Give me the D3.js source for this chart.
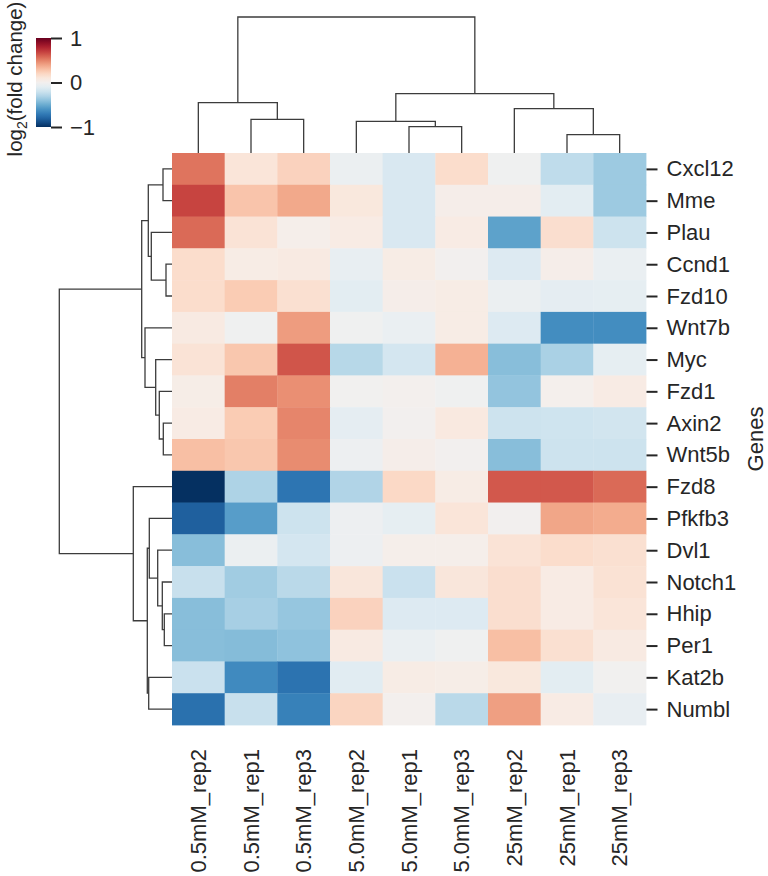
<!DOCTYPE html>
<html>
<head>
<meta charset="utf-8">
<script src="https://cdn.jsdelivr.net/npm/d3@7"></script>
<style>
  html, body { margin: 0; padding: 0; background: #fff; }
  svg { display: block; }
  text { font-family: "Liberation Sans", Arial, Helvetica, sans-serif; fill: #262626; }
</style>
</head>
<body>
<svg id="chart" width="768" height="876"></svg>
<script>
// ---------------- data ----------------
const samples = ["0.5mM_rep2", "0.5mM_rep1", "0.5mM_rep3", "5.0mM_rep2", "5.0mM_rep1",
                 "5.0mM_rep3", "25mM_rep2", "25mM_rep1", "25mM_rep3"];
const genes = ["Cxcl12", "Mme", "Plau", "Ccnd1", "Fzd10", "Wnt7b", "Myc", "Fzd1", "Axin2",
               "Wnt5b", "Fzd8", "Pfkfb3", "Dvl1", "Notch1", "Hhip", "Per1", "Kat2b", "Numbl"];
// log2(fold change), rows = genes, columns = samples (both in clustered display order)
const values = [
  [ 0.54,  0.12,  0.22, -0.05, -0.15,  0.17, -0.02, -0.25, -0.36],
  [ 0.68,  0.28,  0.38,  0.10, -0.15,  0.04,  0.04, -0.10, -0.36],
  [ 0.57,  0.13,  0.03,  0.07, -0.15,  0.07, -0.54,  0.16, -0.20],
  [ 0.17,  0.06,  0.08, -0.07,  0.06,  0.00, -0.13,  0.04, -0.06],
  [ 0.17,  0.25,  0.15, -0.10,  0.04,  0.06, -0.05, -0.09, -0.08],
  [ 0.08, -0.02,  0.42, -0.02, -0.06,  0.06, -0.13, -0.63, -0.63],
  [ 0.13,  0.27,  0.63, -0.28, -0.17,  0.35, -0.42, -0.32, -0.08],
  [ 0.05,  0.51,  0.46, -0.01,  0.01, -0.02, -0.39,  0.02,  0.07],
  [ 0.07,  0.25,  0.49, -0.09,  0.00,  0.09, -0.20, -0.19, -0.18],
  [ 0.30,  0.27,  0.47, -0.04,  0.04,  0.00, -0.42, -0.20, -0.20],
  [-1.00, -0.31, -0.73, -0.30,  0.19,  0.06,  0.62,  0.62,  0.57],
  [-0.82, -0.56, -0.20, -0.04, -0.08,  0.12,  0.00,  0.39,  0.37],
  [-0.42, -0.05, -0.17, -0.04,  0.03,  0.03,  0.13,  0.17,  0.15],
  [-0.22, -0.35, -0.27,  0.11, -0.21,  0.11,  0.16,  0.07,  0.14],
  [-0.42, -0.33, -0.38,  0.22, -0.13, -0.13,  0.16,  0.07,  0.12],
  [-0.42, -0.43, -0.40,  0.08, -0.06, -0.02,  0.30,  0.15,  0.08],
  [-0.21, -0.64, -0.74, -0.11,  0.06,  0.05,  0.10, -0.10, -0.01],
  [-0.75, -0.22, -0.68,  0.21,  0.01, -0.27,  0.41,  0.07, -0.07]
];
// scipy-style linkage: [childA, childB, distance]; ids >= n refer to earlier merges
const colLinkage = [
  [7, 8, 18.3], [4, 5, 26.3], [3, 10, 31.7], [1, 2, 33.7],
  [6, 9, 44.3], [0, 12, 50.3], [11, 13, 59.3], [14, 15, 136.0]
];
const rowLinkage = [
  [3, 4, 6.0], [14, 15, 7.7], [8, 9, 8.7], [0, 1, 9.0], [13, 19, 9.7],
  [7, 20, 12.7], [12, 22, 14.3], [6, 23, 16.3], [2, 18, 20.7], [11, 24, 22.7],
  [16, 17, 23.3], [21, 26, 23.7], [27, 28, 24.7], [5, 25, 27.0], [29, 31, 30.3],
  [10, 30, 38.7], [32, 33, 112.7]
];
const cbarTicks = [-1, 0, 1];
const cbarLabel = "log₂(fold change)";
const rowAxisTitle = "Genes";

// ---------------- layout ----------------
const svg = d3.select("#chart");
const hm = { x0: 172, x1: 646, y0: 153, y1: 725 };
const fontSize = 22;

const x = d3.scaleBand().domain(d3.range(samples.length)).range([hm.x0, hm.x1]);
const y = d3.scaleBand().domain(d3.range(genes.length)).range([hm.y0, hm.y1]);
const color = v => d3.interpolateRdBu((1 - Math.max(-1, Math.min(1, v))) / 2);

// heatmap cells
const cells = [];
values.forEach((row, r) => row.forEach((v, c) => cells.push({ r, c, v })));
svg.append("g").selectAll("rect").data(cells).join("rect")
  .attr("x", d => x(d.c)).attr("y", d => y(d.r))
  .attr("width", x.bandwidth() + 0.4).attr("height", y.bandwidth() + 0.4)
  .attr("fill", d => color(d.v));

// dendrogram helper
function dendroSegments(linkage, n, posOf) {
  const pos = d3.range(n).map(posOf);
  const hgt = d3.range(n).map(() => 0);
  const segs = [];
  linkage.forEach(([a, b, d]) => {
    segs.push({ p1: pos[a], h1: hgt[a], p2: pos[b], h2: hgt[b], h: d });
    pos.push((pos[a] + pos[b]) / 2);
    hgt.push(d);
  });
  return segs;
}
const lineStyle = sel => sel.attr("fill", "none").attr("stroke", "#3c3c3c").attr("stroke-width", 1.3);

// column dendrogram
const colH = d3.scaleLinear().domain([0, d3.max(colLinkage, d => d[2])]).range([hm.y0, 17]);
const colSegs = dendroSegments(colLinkage, samples.length, i => x(i) + x.bandwidth() / 2);
svg.append("g").selectAll("path").data(colSegs).join("path")
  .attr("d", s => `M${s.p1},${colH(s.h1)}V${colH(s.h)}H${s.p2}V${colH(s.h2)}`)
  .call(lineStyle);

// row dendrogram
const rowH = d3.scaleLinear().domain([0, d3.max(rowLinkage, d => d[2])]).range([hm.x0, 59.3]);
const rowSegs = dendroSegments(rowLinkage, genes.length, i => y(i) + y.bandwidth() / 2);
svg.append("g").selectAll("path").data(rowSegs).join("path")
  .attr("d", s => `M${rowH(s.h1)},${s.p1}H${rowH(s.h)}V${s.p2}H${rowH(s.h2)}`)
  .call(lineStyle);

// row labels (right axis)
const rowAxis = svg.append("g").attr("transform", `translate(${hm.x1 + 0.5},0)`)
  .call(d3.axisRight(d3.scalePoint().domain(genes).range([y(0) + y.bandwidth() / 2, y(genes.length - 1) + y.bandwidth() / 2]))
    .tickSizeInner(11).tickSizeOuter(0).tickPadding(9));
rowAxis.select(".domain").remove();
rowAxis.selectAll("line").attr("stroke", "#262626").attr("stroke-width", 2);
rowAxis.selectAll("text").attr("font-size", fontSize).attr("fill", "#262626")
  .style("font-family", '"Liberation Sans", Arial, sans-serif');

// column labels (bottom, rotated)
svg.append("g").selectAll("text").data(samples).join("text")
  .attr("transform", (d, i) => `translate(${x(i) + x.bandwidth() / 2},749) rotate(-90)`)
  .attr("text-anchor", "end").attr("dy", "0.35em")
  .attr("font-size", fontSize).text(d => d);

// row axis title
svg.append("text")
  .attr("transform", `translate(763,${(hm.y0 + hm.y1) / 2}) rotate(-90)`)
  .attr("text-anchor", "middle").attr("font-size", fontSize).text(rowAxisTitle);

// colorbar
const cb = { x: 36, w: 15, y0: 38, y1: 127 };
const defs = svg.append("defs");
const grad = defs.append("linearGradient").attr("id", "cbgrad")
  .attr("x1", 0).attr("y1", 1).attr("x2", 0).attr("y2", 0);
d3.range(0, 1.0001, 0.05).forEach(t => {
  grad.append("stop").attr("offset", t).attr("stop-color", color(-1 + 2 * t));
});
svg.append("rect").attr("x", cb.x).attr("y", cb.y0).attr("width", cb.w).attr("height", cb.y1 - cb.y0)
  .attr("fill", "url(#cbgrad)");
const cbScale = d3.scaleLinear().domain([-1, 1]).range([cb.y1, cb.y0]);
const cbAxis = svg.append("g").attr("transform", `translate(${cb.x + cb.w},0)`)
  .call(d3.axisRight(cbScale).tickValues(cbarTicks).tickFormat(d3.format("d"))
    .tickSizeInner(11).tickSizeOuter(0).tickPadding(8));
cbAxis.select(".domain").remove();
cbAxis.selectAll("line").attr("stroke", "#262626").attr("stroke-width", 2);
cbAxis.selectAll("text").attr("font-size", fontSize).attr("fill", "#262626")
  .style("font-family", '"Liberation Sans", Arial, sans-serif');

// colorbar label with subscript
const lbl = svg.append("text")
  .attr("transform", `translate(22,79) rotate(-90)`)
  .attr("text-anchor", "middle").attr("font-size", 20.5);
lbl.append("tspan").text("log");
lbl.append("tspan").attr("font-size", 14).attr("dy", 5).text("2");
lbl.append("tspan").attr("dy", -5).text("(fold change)");
</script>
</body>
</html>
